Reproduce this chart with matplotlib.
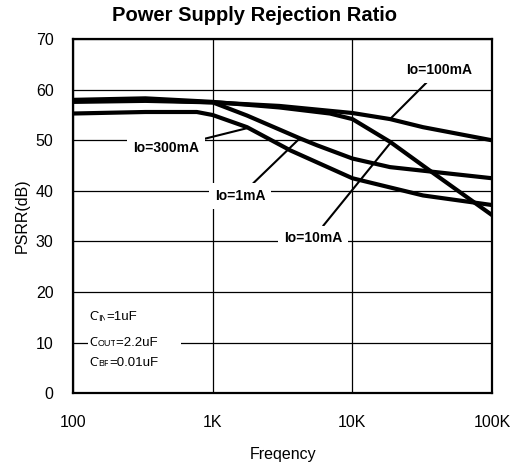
import numpy as np
import matplotlib
matplotlib.use("Agg")
from matplotlib import pyplot as plt

plt.rcParams['font.family'] = ['Liberation Sans', 'DejaVu Sans']

# frequencies (Hz) and PSRR (dB)
f_100mA = [100, 330, 1000, 3000, 10000, 18600, 32000, 100000]
p_100mA = [57.8, 58.0, 57.5, 56.8, 55.4, 54.2, 52.6, 50.0]

f_10mA = [100, 330, 1000, 3000, 6900, 10000, 18600, 38000, 100000]
p_10mA = [58.0, 58.3, 57.6, 56.5, 55.3, 54.2, 49.7, 43.5, 35.2]

f_1mA = [100, 330, 1000, 1760, 4200, 5600, 10000, 18600, 100000]
p_1mA = [57.6, 57.8, 57.5, 54.9, 50.4, 49.0, 46.4, 44.7, 42.5]

f_300mA = [100, 330, 770, 1000, 1760, 3600, 10000, 32000, 100000]
p_300mA = [55.3, 55.6, 55.6, 55.0, 52.6, 48.0, 42.5, 39.1, 37.2]

xticks = [100, 1000, 10000, 100000]
xticklabels = ['100', '1K', '10K', '100K']
yticks = [0, 10, 20, 30, 40, 50, 60, 70]

fig = plt.figure(figsize=(5.18, 4.72), dpi=100)
ax = fig.add_axes([0.141, 0.167, 0.809, 0.750])

for f, p in [(f_100mA, p_100mA), (f_10mA, p_10mA), (f_1mA, p_1mA), (f_300mA, p_300mA)]:
    ax.plot(f, p, color='black', lw=3.0, solid_capstyle='butt', zorder=4)

ax.set_xscale('log')
ax.set_xlim(100, 100000)
ax.set_ylim(0, 70)
ax.set_xticks(xticks)
ax.set_xticklabels(xticklabels)
ax.set_yticks(yticks)
ax.minorticks_off()
ax.tick_params(length=0, labelsize=11.5)
ax.tick_params(axis='x', pad=16)
ax.tick_params(axis='y', pad=14)
ax.grid(True, color='black', lw=0.9, zorder=1)
ax.set_axisbelow(True)
for s in ax.spines.values():
    s.set_linewidth(1.6)

ax.set_ylabel('PSRR(dB)', fontsize=11.5, labelpad=4)
ax.set_xlabel('Freqency', fontsize=11.5, labelpad=12)
fig.text(0.492, 0.968, 'Power Supply Rejection Ratio', ha='center', va='center',
         fontsize=14.5, fontweight='bold')

box = dict(boxstyle='square,pad=0.4', facecolor='white', edgecolor='none')
arrow = dict(arrowstyle='-', color='black', lw=1.5, shrinkA=0, shrinkB=0)
labels = [('Io=300mA', (463, 48.4), (1760, 52.4)),
          ('Io=1mA', (1570, 39.0), (4200, 50.4)),
          ('Io=10mA', (5220, 30.6), (18600, 49.4)),
          ('Io=100mA', (41700, 63.9), (18600, 54.2))]
for txt, pos, pt in labels:
    ax.annotate(txt, xy=pt, xytext=pos, ha='center', va='center', fontsize=10,
                fontweight='bold', bbox=box, arrowprops=arrow, zorder=3)

# capacitor notes: big C, small-caps subscript on the baseline, then the value
caps = [('IN', '=1uF', 15.0), ('OUT', '=2.2uF      ', 10.0), ('BP', '=0.01uF', 6.0)]
wb = dict(boxstyle='square,pad=0.1', facecolor='white', edgecolor='none')
for sub, rest, y in caps:
    t = ax.text(131, y, 'C', ha='left', va='center', fontsize=9.5, bbox=wb, zorder=3)
    s = ax.annotate(sub, xy=(1, 0), xycoords=t, xytext=(-0.8, 0.3), textcoords='offset points',
                    ha='left', va='bottom', fontsize=6.5, bbox=wb, zorder=3)
    ax.annotate(rest, xy=(1, 0), xycoords=s, xytext=(-0.3, -0.3), textcoords='offset points',
                ha='left', va='bottom', fontsize=9.5, bbox=wb, zorder=3)

fig.savefig('out.png', dpi=100)
